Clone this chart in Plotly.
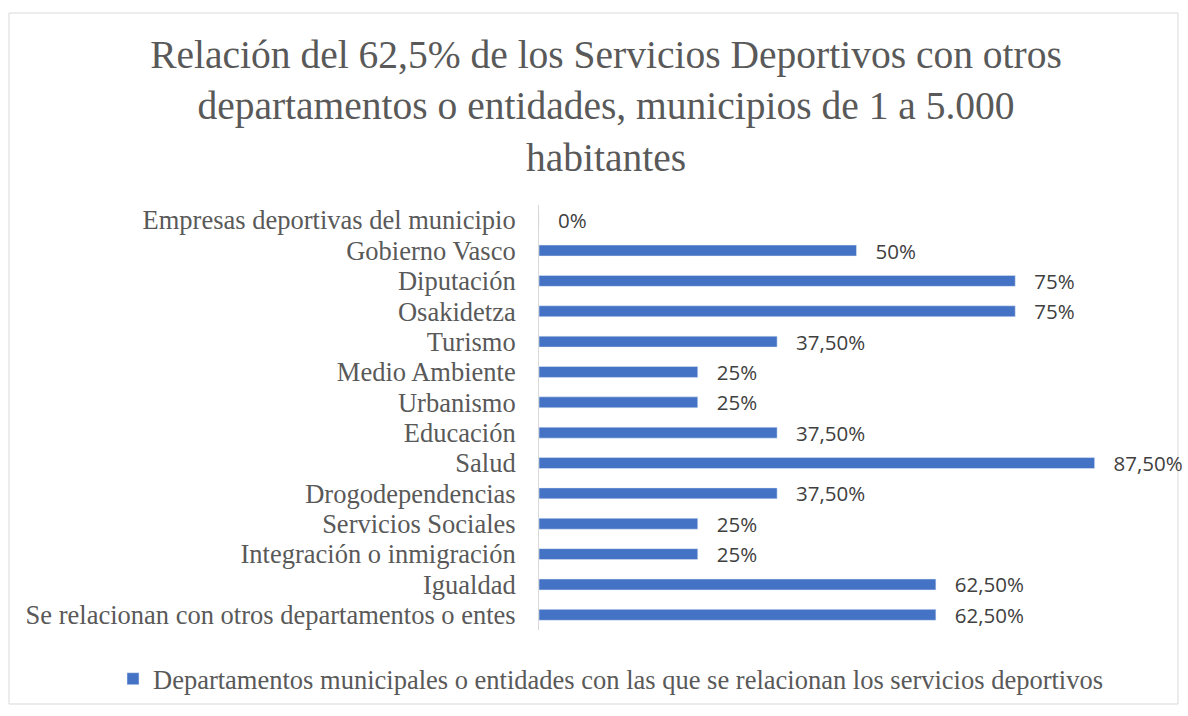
import plotly.graph_objects as go

categories = [
    "Se relacionan con otros departamentos o entes",
    "Igualdad",
    "Integración o inmigración",
    "Servicios Sociales",
    "Drogodependencias",
    "Salud",
    "Educación",
    "Urbanismo",
    "Medio Ambiente",
    "Turismo",
    "Osakidetza",
    "Diputación",
    "Gobierno Vasco",
    "Empresas deportivas del municipio",
]
values = [62.5, 62.5, 25, 25, 37.5, 87.5, 37.5, 25, 25, 37.5, 75, 75, 50, 0]
labels = ["62,50%", "62,50%", "25%", "25%", "37,50%", "87,50%", "37,50%",
          "25%", "25%", "37,50%", "75%", "75%", "50%", "0%"]
series_name = "Departamentos municipales o entidades con las que se relacionan los servicios deportivos"
title_text = ("Relación del 62,5% de los Servicios Deportivos con otros<br>"
              "departamentos o entidades, municipios de 1 a 5.000<br>habitantes")

W, H = 1188, 716
L, R, T, B = 539, 14, 205, 86
pw, ph = W - L - R, H - T - B

def px(x):
    return (x - L) / pw

def py(y):
    return (H - B - y) / ph

fig = go.Figure()
fig.add_trace(go.Bar(
    y=categories, x=values, orientation="h",
    marker=dict(color="#4472C4"),
    width=0.36,
    text=labels, texttemplate="   %{text}", textposition="outside",
    cliponaxis=False, constraintext="none",
    textfont=dict(family="Open Sans", size=20.5, color="#404040"),
    name=series_name, showlegend=True,
))

fig.update_layout(
    width=W, height=H,
    margin=dict(l=L, r=R, t=T, b=B, autoexpand=False),
    paper_bgcolor="white", plot_bgcolor="white",
    title=dict(text=title_text, x=606 / W, xanchor="center", xref="container",
               y=1 - 68 / H, yanchor="top", yref="container",
               font=dict(family="Liberation Serif", size=39.5, color="#595959")),
    xaxis=dict(range=[0, 100], visible=False, showgrid=False),
    yaxis=dict(showline=True, linecolor="#d9d9d9", linewidth=1, ticks="",
               showgrid=False, zeroline=False, tickmode="linear", dtick=1,
               tickfont=dict(family="Liberation Serif", size=26.5, color="#595959"),
               ticklabelstandoff=17),
    bargap=0.64,
    legend=dict(orientation="h", x=px(611), xanchor="center", y=py(679), yanchor="middle",
                bgcolor="rgba(0,0,0,0)",
                font=dict(family="Liberation Serif", size=26.5, color="#595959")),
    shapes=[dict(type="rect", xref="paper", yref="paper",
                 x0=px(9), x1=px(1178), y0=py(704), y1=py(13),
                 line=dict(color="#d9d9d9", width=1), layer="below")],
)

fig.write_html("out.html", config={"displayModeBar": False},
               post_script="document.body.style.margin='0';")
